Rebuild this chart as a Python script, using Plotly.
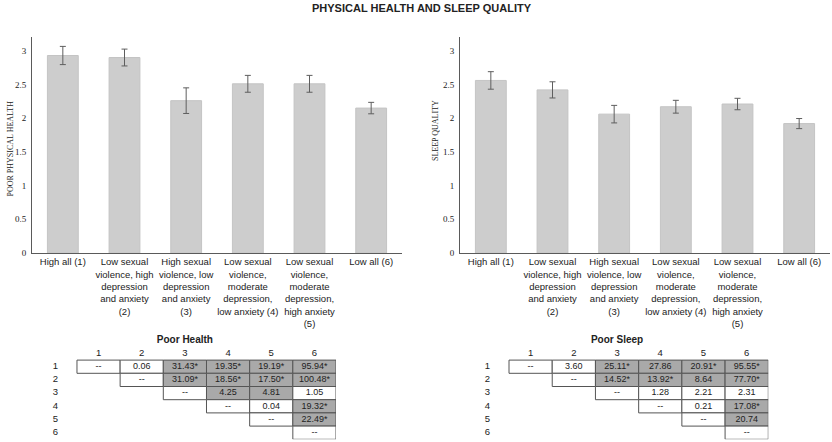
import plotly.graph_objects as go

W, H = 832, 442

# ---------------- data ----------------
categories = [
    "High all (1)",
    "Low sexual<br>violence, high<br>depression<br>and anxiety<br>(2)",
    "High sexual<br>violence, low<br>depression<br>and anxiety<br>(3)",
    "Low sexual<br>violence,<br>moderate<br>depression,<br>low anxiety (4)",
    "Low sexual<br>violence,<br>moderate<br>depression,<br>high anxiety<br>(5)",
    "Low all (6)",
]
health = [2.93, 2.90, 2.26, 2.51, 2.51, 2.15]
health_err = [0.135, 0.125, 0.19, 0.125, 0.125, 0.085]
sleep = [2.56, 2.42, 2.06, 2.17, 2.21, 1.92]
sleep_err = [0.13, 0.12, 0.13, 0.095, 0.085, 0.075]

group_labels = ["1", "2", "3", "4", "5", "6"]
health_table = [
    ["--", "0.06", "31.43*", "19.35*", "19.19*", "95.94*"],
    ["--", "31.09*", "18.56*", "17.50*", "100.48*"],
    ["--", "4.25", "4.81", "1.05"],
    ["--", "0.04", "19.32*"],
    ["--", "22.49*"],
    ["--"],
]
health_shaded = [
    [0, 0, 1, 1, 1, 1],
    [0, 1, 1, 1, 1],
    [0, 1, 1, 0],
    [0, 0, 1],
    [0, 1],
    [0],
]
sleep_table = [
    ["--", "3.60", "25.11*", "27.86", "20.91*", "95.55*"],
    ["--", "14.52*", "13.92*", "8.64", "77.70*"],
    ["--", "1.28", "2.21", "2.31"],
    ["--", "0.21", "17.08*"],
    ["--", "20.74"],
    ["--"],
]
sleep_shaded = [
    [0, 0, 1, 1, 1, 1],
    [0, 1, 1, 1, 1],
    [0, 0, 0, 0],
    [0, 0, 1],
    [0, 1],
    [0],
]

# ---------------- helpers ----------------
def px_x(a, b):
    return [a / W, b / W]

def px_y(top, bottom):
    return [1 - bottom / H, 1 - top / H]

SANS = "Liberation Sans, Arial, sans-serif"
SERIF = "Liberation Serif, Times New Roman, serif"
AXC = "#5a5a5a"

fig = go.Figure()

# ---------------- bar charts ----------------
for vals, errs, xa, ya in [(health, health_err, "x", "y"), (sleep, sleep_err, "x2", "y2")]:
    fig.add_trace(go.Bar(
        x=categories, y=vals, xaxis=xa, yaxis=ya, width=0.5,
        marker=dict(color="#cdcdcd", line=dict(color="#c4c4c4", width=1)),
        error_y=dict(type="data", array=errs, color="#5e5e5e", thickness=1, width=3),
        showlegend=False, hoverinfo="skip",
    ))

bar_x_common = dict(
    type="category", showline=True, linecolor=AXC, linewidth=1, ticks="",
    tickfont=dict(family=SANS, size=9.5, color="#222"), showgrid=False, zeroline=False,
    automargin=False,
)
bar_y_common = dict(
    range=[0, 3.2], dtick=0.5, tick0=0, showline=True, linecolor=AXC, linewidth=1,
    ticks="", showgrid=False, zeroline=False, ticklabelstandoff=3, automargin=False,
    tickfont=dict(family=SERIF, size=9, color="#222"),
)

ydom = px_y(37.3, 253)
fig.update_layout(
    xaxis=dict(domain=px_x(32, 402), anchor="y", **bar_x_common),
    yaxis=dict(domain=ydom, anchor="x", **bar_y_common),
    xaxis2=dict(domain=px_x(460, 830), anchor="y2", **bar_x_common),
    yaxis2=dict(domain=ydom, anchor="x2", **bar_y_common),
)

# ---------------- tables ----------------
shapes = []
tdom_y = px_y(333.7, 439.3)
for ti, (tbl, shd, title, xdom) in enumerate([
    (health_table, health_shaded, "Poor Health", px_x(33.8, 336)),
    (sleep_table, sleep_shaded, "Poor Sleep", px_x(465.8, 768.3)),
]):
    xa = "x%d" % (ti + 3)
    ya = "y%d" % (ti + 3)
    xs, ys, ts = [], [], []
    for r, row in enumerate(tbl, start=1):
        for k, (txt, s) in enumerate(zip(row, shd[r - 1])):
            c = r + k
            shapes.append(dict(
                type="rect", xref=xa, yref=ya, x0=c - 0.5, x1=c + 0.5, y0=r - 0.5, y1=r + 0.5,
                fillcolor="#a9a9a9" if s else "#ffffff",
                line=dict(color="#555555", width=1), layer="below",
            ))
            xs.append(c); ys.append(r); ts.append(txt)
    fig.add_trace(go.Scatter(
        x=xs, y=ys, text=ts, mode="text", xaxis=xa, yaxis=ya,
        textfont=dict(family=SANS, size=9, color="#222"), showlegend=False,
        hoverinfo="skip", cliponaxis=False,
    ))
    hx = list(range(1, 7)) + [0] * 6
    hy = [0] * 6 + list(range(1, 7))
    fig.add_trace(go.Scatter(
        x=hx, y=hy, text=group_labels + group_labels, mode="text", xaxis=xa, yaxis=ya,
        textfont=dict(family=SANS, size=9.5, color="#222"), showlegend=False,
        hoverinfo="skip", cliponaxis=False,
    ))
    fig.add_trace(go.Scatter(
        x=[3], y=[-1], text=["<b>%s</b>" % title], mode="text", xaxis=xa, yaxis=ya,
        textfont=dict(family=SANS, size=10, color="#222"), showlegend=False,
        hoverinfo="skip", cliponaxis=False,
    ))
    fig.update_layout(**{
        "xaxis%d" % (ti + 3): dict(domain=xdom, range=[-0.5, 6.5], visible=False, anchor=ya,
                                   automargin=False),
        "yaxis%d" % (ti + 3): dict(domain=tdom_y, range=[6.5, -1.5], visible=False, anchor=xa,
                                   automargin=False),
    })

annotations = [
    dict(text="<b>PHYSICAL HEALTH AND SLEEP QUALITY</b>", x=422 / W, y=1 - 8 / H,
         xref="paper", yref="paper", showarrow=False, xanchor="center", yanchor="middle",
         font=dict(family=SANS, size=11, color="#222")),
    dict(text="POOR PHYSICAL HEALTH", x=9.5 / W, y=1 - 149 / H, textangle=-90,
         xref="paper", yref="paper", showarrow=False, xanchor="center", yanchor="middle",
         font=dict(family=SERIF, size=8, color="#222")),
    dict(text="SLEEP QUALITY", x=435 / W, y=1 - 131 / H, textangle=-90,
         xref="paper", yref="paper", showarrow=False, xanchor="center", yanchor="middle",
         font=dict(family=SERIF, size=8, color="#222")),
]

fig.update_layout(
    width=W, height=H, margin=dict(l=0, r=0, t=0, b=0, autoexpand=False),
    paper_bgcolor="white", plot_bgcolor="white",
    shapes=shapes, annotations=annotations, bargap=0.5,
)

fig.write_html(
    "out.html",
    config={"displayModeBar": False, "staticPlot": True},
    post_script="document.body.style.margin='0';document.body.style.overflow='hidden';",
)
